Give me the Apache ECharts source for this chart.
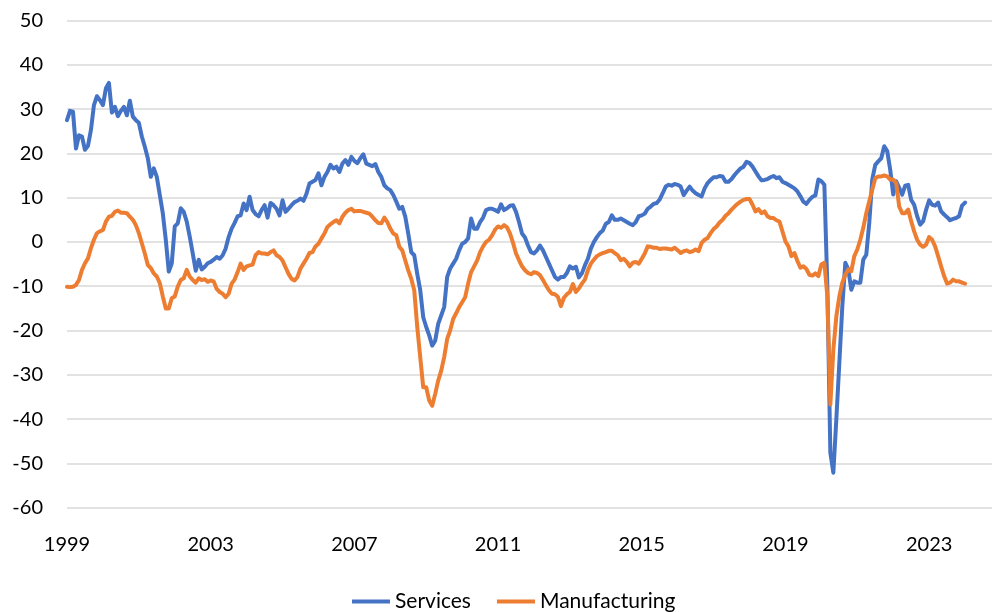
<!DOCTYPE html>
<html>
<head>
<meta charset="utf-8">
<script src="https://cdn.jsdelivr.net/npm/echarts@6/dist/echarts.min.js"></script>
<style>
  html, body { margin: 0; padding: 0; background: #fff; }
  #chart { width: 992px; height: 612px; }
</style>
</head>
<body>
<div id="chart"></div>
<script>
// Monthly series, Jan 1999 .. Jan 2024
var services = [
  27.5, 29.6, 29.4, 21.1, 24.1, 23.8, 20.8, 21.7, 25.3, 30.9, 32.9, 32.0,
  30.9, 34.7, 35.9, 29.2, 30.5, 28.4, 29.6, 30.5, 28.6, 31.9, 28.3, 27.5,
  26.9, 23.8, 21.5, 18.9, 14.7, 16.6, 14.7, 10.6, 6.5, 0.5, -6.7, -4.8,
  3.5, 4.2, 7.6, 6.8, 4.6, 1.2, -2.6, -6.5, -4.0, -6.2, -5.6, -4.8,
  -4.5, -4.0, -3.4, -3.8, -3.0, -1.5, 1.1, 3.0, 4.3, 5.8, 6.0, 8.7,
  7.2, 10.2, 7.2, 6.3, 5.8, 7.2, 8.3, 5.5, 8.8, 8.3, 7.5, 6.0,
  9.4, 6.8, 7.5, 8.3, 9.0, 9.3, 9.8, 9.3, 10.9, 13.2, 13.6, 14.0,
  15.5, 12.8, 14.7, 15.8, 17.4, 16.6, 17.0, 15.8, 17.7, 18.5, 17.4, 19.2,
  18.3, 17.8, 18.9, 19.8, 17.7, 17.4, 17.1, 17.6, 15.8, 14.7, 12.8, 12.1,
  11.7, 10.6, 9.1, 7.5, 7.9, 5.7, 1.9, -2.3, -3.0, -7.2, -10.9, -17.0,
  -19.2, -21.1, -23.4, -22.3, -18.5, -16.6, -14.7, -7.9, -6.0, -4.9, -3.8, -1.9,
  -0.4, 0.0, 0.8, 5.3, 3.0, 3.0, 4.5, 5.5, 7.2, 7.5, 7.5, 7.2,
  6.8, 8.5, 7.2, 7.6, 8.2, 8.3, 6.8, 4.5, 1.9, 1.0, -0.8, -2.3,
  -2.6, -1.9, -0.8, -1.9, -3.4, -4.9, -6.4, -7.9, -8.5, -7.9, -7.9, -7.0,
  -5.5, -6.0, -5.6, -8.0, -7.1, -5.3, -3.8, -1.5, 0.0, 1.1, 2.0, 2.6,
  4.1, 4.5, 6.0, 5.0, 5.0, 5.3, 4.9, 4.5, 4.1, 3.8, 4.5, 5.8,
  6.0, 6.4, 7.5, 8.0, 8.6, 8.8, 9.6, 11.0, 12.5, 12.9, 12.7, 13.1,
  12.9, 12.5, 10.6, 11.6, 12.5, 11.6, 11.0, 10.6, 10.3, 12.1, 13.3, 14.0,
  14.6, 14.6, 14.9, 14.8, 13.6, 13.6, 14.2, 15.1, 15.9, 16.6, 17.0, 18.1,
  17.8, 17.0, 15.9, 14.8, 13.9, 14.0, 14.2, 14.6, 14.9, 14.4, 14.6, 13.6,
  13.3, 12.9, 12.5, 12.1, 11.4, 10.3, 9.1, 8.6, 9.5, 10.2, 10.5, 14.1,
  13.7, 12.9, -10.0, -47.6, -52.1, -40.0, -27.3, -14.5, -4.7, -6.2, -10.8, -8.9,
  -9.2, -9.2, -4.0, -2.9, 4.3, 14.1, 17.4, 18.2, 18.9, 21.6, 20.5, 16.3,
  10.7, 13.7, 12.2, 10.7, 12.7, 12.9, 9.5, 8.4, 5.8, 3.9, 4.7, 7.3,
  9.4, 8.4, 8.2, 8.9, 6.9, 6.2, 5.6, 4.9, 5.2, 5.4, 5.8, 8.2,
  8.9
];
var manufacturing = [
  -10.1, -10.2, -10.1, -9.7, -8.6, -6.3, -4.8, -3.7, -1.4, 0.5, 2.0, 2.4,
  2.7, 4.6, 5.7, 5.9, 6.8, 7.1, 6.6, 6.6, 6.5, 5.7, 5.0, 3.8,
  2.0, -0.3, -2.6, -5.2, -5.9, -7.1, -7.8, -9.3, -12.3, -15.0, -15.0, -12.7,
  -12.3, -10.1, -8.6, -8.2, -6.3, -7.8, -8.6, -9.2, -8.2, -8.6, -8.4, -9.0,
  -8.7, -8.9, -10.6, -11.3, -11.7, -12.5, -11.7, -9.4, -8.5, -6.8, -4.9, -6.3,
  -5.5, -5.3, -5.1, -3.0, -2.3, -2.6, -2.6, -2.8, -2.3, -1.9, -3.0, -3.4,
  -4.2, -5.7, -7.2, -8.3, -8.7, -7.9, -6.0, -4.9, -3.8, -2.5, -2.3, -1.0,
  -0.4, 0.8, 1.9, 3.4, 4.0, 4.5, 4.9, 4.2, 5.7, 6.6, 7.2, 7.5,
  6.9, 7.0, 7.0, 6.8, 6.6, 6.4, 5.7, 4.9, 4.3, 4.2, 5.5, 4.5,
  3.0, 1.9, 1.5, -1.1, -1.9, -4.2, -6.4, -8.3, -10.9, -19.2, -26.0, -32.8,
  -32.8, -35.8, -37.0, -34.3, -31.3, -29.1, -26.0, -21.9, -20.0, -17.4, -16.1, -14.7,
  -13.6, -12.5, -9.4, -6.8, -5.5, -4.2, -2.3, -1.0, 0.0, 0.5, 1.5, 2.8,
  3.5, 3.2, 3.8, 3.3, 1.9, -0.2, -2.6, -4.1, -5.5, -6.4, -7.0, -7.3,
  -6.8, -7.0, -7.5, -8.6, -9.8, -10.9, -11.7, -11.8, -12.4, -14.5, -12.6, -11.8,
  -11.3, -9.5, -11.3, -10.5, -9.4, -8.5, -6.4, -4.9, -4.0, -3.2, -2.8, -2.5,
  -2.3, -2.0, -2.0, -2.5, -3.0, -4.1, -3.8, -4.5, -5.5, -4.7, -4.5, -4.9,
  -3.8, -2.6, -1.0, -1.1, -1.3, -1.3, -1.6, -1.5, -1.5, -1.6, -1.7, -1.3,
  -1.9, -2.5, -2.1, -1.9, -2.3, -2.1, -1.7, -2.1, -0.2, 0.5, 0.9, 2.0,
  2.9, 3.5, 4.4, 5.0, 5.9, 6.5, 7.3, 8.0, 8.6, 9.1, 9.5, 9.7,
  9.7, 8.4, 6.9, 7.4, 6.5, 6.9, 5.8, 5.4, 5.4, 4.9, 4.6, 2.4,
  0.1, -1.0, -3.2, -2.5, -4.3, -5.8, -5.5, -6.1, -7.4, -7.6, -7.1, -7.7,
  -5.1, -4.7, -12.3, -36.7, -24.3, -16.8, -12.3, -9.2, -7.4, -6.2, -6.6, -3.2,
  -1.7, 0.5, 3.2, 6.5, 9.2, 11.8, 14.4, 14.8, 14.8, 15.0, 14.8, 14.1,
  14.1, 13.3, 8.0, 6.5, 6.5, 7.3, 4.7, 2.4, 0.5, -0.6, -1.1, -0.6,
  1.1, 0.5, -1.0, -3.2, -5.5, -7.7, -9.4, -9.2, -8.5, -8.9, -8.9, -9.2,
  -9.4
];
var yearTicks = ['1999', '2003', '2007', '2011', '2015', '2019', '2023'];
var seriesNames = ['Services', 'Manufacturing'];

// Monthly category axis: Jan 1999 .. Oct 2024 (axis runs a bit past the last point)
var months = [];
for (var y = 1999; y <= 2024; y++) {
  for (var m = 1; m <= 12; m++) {
    if (months.length < 310) months.push(y + '-' + (m < 10 ? '0' + m : m));
  }
}

var FONT = 'Lato, "Open Sans", sans-serif';
var chart = echarts.init(document.getElementById('chart'), null, { renderer: 'canvas' });
chart.setOption({
  animation: false,
  backgroundColor: '#ffffff',
  grid: { left: 67, right: 0, top: 20.5, bottom: 104.3, containLabel: false },
  legend: {
    data: seriesNames,
    left: 347,
    top: 586,
    icon: 'rect',
    itemWidth: 38,
    itemHeight: 4,
    itemGap: 26,
    textStyle: { fontFamily: FONT, fontSize: 21, color: '#000' }
  },
  xAxis: {
    type: 'category',
    data: months,
    boundaryGap: false,
    axisLine: { show: false },
    axisTick: { show: false },
    splitLine: { show: false },
    axisLabel: {
      margin: 27,
      fontFamily: FONT,
      fontSize: 20,
      color: '#000',
      interval: function (idx, val) { return yearTicks.indexOf(val.slice(0, 4)) >= 0 && val.slice(5) === '01'; },
      formatter: function (val) { return val.slice(0, 4); }
    }
  },
  yAxis: {
    type: 'value',
    min: -60,
    max: 50,
    interval: 10,
    axisLine: { show: false },
    axisTick: { show: false },
    splitLine: { lineStyle: { color: '#d9d9d9', width: 1.5 } },
    axisLabel: { margin: 24, fontFamily: FONT, fontSize: 20, color: '#000' }
  },
  series: [
    {
      name: seriesNames[0],
      type: 'line',
      data: services,
      symbol: 'none',
      smooth: false,
      lineStyle: { color: '#4472C4', width: 4, join: 'round', cap: 'round' },
      itemStyle: { color: '#4472C4' }
    },
    {
      name: seriesNames[1],
      type: 'line',
      data: manufacturing,
      symbol: 'none',
      smooth: false,
      lineStyle: { color: '#ED7D31', width: 4, join: 'round', cap: 'round' },
      itemStyle: { color: '#ED7D31' }
    }
  ]
});
</script>
</body>
</html>
